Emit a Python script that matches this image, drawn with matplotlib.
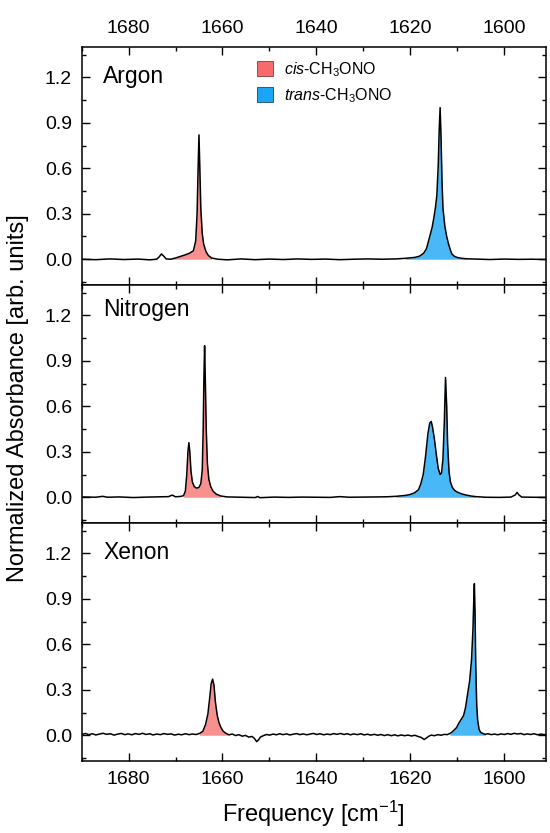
import matplotlib
matplotlib.use("Agg")
import matplotlib.pyplot as plt
from matplotlib.ticker import MultipleLocator, FormatStrFormatter
from matplotlib.patches import Patch
import numpy as np

plt.rcParams['font.family'] = ['Liberation Sans', 'DejaVu Sans']
plt.rcParams['mathtext.fontset'] = 'custom'
plt.rcParams['mathtext.rm'] = 'Liberation Sans'
plt.rcParams['mathtext.it'] = 'Liberation Sans:italic'

# ---------------- data ----------------
argon_x = [1690, 1687, 1684, 1681, 1678, 1675.5, 1674, 1673.5, 1673, 1672.5, 1672, 1671, 1670, 1669,
           1668, 1667, 1666.2, 1665.7, 1665.4, 1665.2, 1665.0, 1664.8, 1664.6, 1664.3, 1664.0, 1663.5,
           1663.0, 1662.3, 1661, 1659, 1656, 1653, 1650, 1647, 1644, 1641, 1638, 1635, 1632, 1629,
           1626, 1623, 1621, 1619, 1618, 1617.1, 1616.5, 1615.9, 1615.3, 1614.9, 1614.6, 1614.3,
           1614.0, 1613.8, 1613.6, 1613.4, 1613.2, 1613.0, 1612.6, 1612.2, 1611.8, 1611.4, 1611.1,
           1610.6, 1610, 1609, 1608, 1606, 1603, 1600, 1597, 1594, 1591, 1590]
argon_y = [0.000, -0.003, 0.002, -0.002, 0.001, -0.004, 0.000, 0.015, 0.035, 0.020, 0.002, 0.000, 0.008, 0.018,
           0.028, 0.040, 0.055, 0.12, 0.30, 0.58, 0.82, 0.58, 0.33, 0.17, 0.10, 0.05,
           0.025, 0.008, 0.000, -0.004, 0.002, -0.003, 0.001, -0.002, 0.002, -0.001, 0.001, -0.003, 0.000, 0.002,
           0.000, 0.002, 0.006, 0.012, 0.020, 0.040, 0.070, 0.14, 0.21, 0.28, 0.34, 0.42,
           0.62, 0.85, 1.00, 0.80, 0.52, 0.34, 0.22, 0.15, 0.10, 0.06, 0.035,
           0.020, 0.012, 0.006, 0.003, 0.001, -0.002, 0.001, -0.001, 0.000, -0.002, 0.000]

nitrogen_x = [1690, 1687, 1685.5, 1684.5, 1682, 1679, 1676, 1673, 1671.5, 1670.7, 1670.0, 1669, 1668.3,
              1667.9, 1667.6, 1667.35, 1667.15, 1666.95, 1666.7, 1666.4, 1666.0, 1665.5, 1665.0, 1664.6,
              1664.3, 1664.1, 1663.95, 1663.8, 1663.65, 1663.45, 1663.2, 1662.9, 1662.5, 1662.0, 1661.3,
              1660.3, 1659, 1656, 1653, 1652.5, 1652, 1649, 1646, 1643, 1640, 1637, 1635, 1633, 1630,
              1627, 1625, 1623, 1621, 1620, 1619, 1618.2, 1617.7, 1617.2, 1616.7, 1616.2, 1615.8,
              1615.5, 1615.2, 1614.8, 1614.4, 1614.0, 1613.6, 1613.3, 1613.0, 1612.7, 1612.45, 1612.2,
              1612.0, 1611.7, 1611.4, 1611.0, 1610.5, 1610.0, 1609, 1608, 1607, 1606, 1604, 1601,
              1598.5, 1597.6, 1597.2, 1596.8, 1596.2, 1594, 1591, 1590]
nitrogen_y = [0.002, 0.000, 0.006, 0.000, 0.002, -0.002, 0.001, 0.003, 0.004, 0.014, 0.003, 0.005, 0.010,
              0.040, 0.15, 0.30, 0.36, 0.30, 0.17, 0.10, 0.07, 0.06, 0.065, 0.09,
              0.18, 0.45, 0.78, 1.00, 0.78, 0.45, 0.22, 0.12, 0.07, 0.04, 0.02,
              0.008, 0.002, 0.000, -0.002, 0.005, -0.003, 0.001, -0.001, 0.001, 0.000, -0.001, 0.004, 0.000, 0.001,
              0.002, 0.003, 0.006, 0.012, 0.018, 0.030, 0.05, 0.09, 0.15, 0.27, 0.42, 0.49,
              0.50, 0.46, 0.38, 0.28, 0.19, 0.15, 0.16, 0.25, 0.50, 0.79, 0.60,
              0.35, 0.17, 0.10, 0.065, 0.045, 0.035, 0.022, 0.014, 0.008, 0.004, 0.000, -0.001,
              0.001, 0.015, 0.032, 0.015, 0.001, 0.000, -0.001, 0.000]

xenon_x = [1690, 1689.2, 1688.5, 1687.7, 1687.0, 1686.2, 1685.4, 1684.7, 1683.9, 1683.1, 1682.4, 1681.6,
           1680.8, 1680.1, 1679.3, 1678.6, 1677.8, 1677.0, 1676.3, 1675.5, 1674.8, 1674.0, 1673.2, 1672.5,
           1671.7, 1670.9, 1670.2, 1669.4, 1668.7, 1667.9, 1667.1, 1666.4, 1665.6, 1664.9, 1664.2, 1663.6,
           1663.1, 1662.7, 1662.4, 1662.1, 1661.8, 1661.5, 1661.1, 1660.7, 1660.3, 1659.8, 1659.2, 1658.6,
           1657.9, 1657.2, 1656.5, 1655.8, 1655.1, 1654.4, 1653.7, 1653.2, 1652.7, 1652.3, 1651.9, 1651.3,
           1650.6, 1649.9, 1649.2, 1648.5, 1647.8, 1647.1, 1646.3, 1645.6, 1644.9, 1644.2, 1643.5, 1642.8,
           1642.0, 1641.3, 1640.6, 1639.9, 1639.2, 1638.4, 1637.7, 1637.0, 1636.3, 1635.6, 1634.8, 1634.1,
           1633.4, 1632.7, 1632.0, 1631.2, 1630.5, 1629.8, 1629.1, 1628.4, 1627.6, 1626.9, 1626.2, 1625.5,
           1624.8, 1624.0, 1623.3, 1622.6, 1621.9, 1621.2, 1620.4, 1619.7, 1619.0, 1618.3, 1617.6, 1617.0,
           1616.6, 1616.1, 1615.5, 1614.8, 1614.1, 1613.4, 1612.7, 1612.1, 1611.5, 1611.1, 1610.6, 1610.1,
           1609.7, 1609.2, 1608.6, 1608.2, 1607.9, 1607.6, 1607.3, 1606.9, 1606.6, 1606.4, 1606.3, 1606.15,
           1606.0, 1605.8, 1605.6, 1605.3, 1605.0, 1604.5, 1604.0, 1603.4, 1602.7, 1602.0, 1601.3, 1600.6,
           1599.9, 1599.2, 1598.5, 1597.8, 1597.1, 1596.4, 1595.7, 1595.0, 1594.3, 1593.6, 1592.8, 1592.1,
           1591.4, 1590.7, 1590.0]
xenon_y = [0.005, 0.012, 0.004, 0.010, 0.002, 0.008, 0.013, 0.006, 0.010, 0.001, 0.007, 0.012,
           0.004, 0.009, 0.003, 0.011, 0.006, 0.013, 0.005, 0.010, 0.002, 0.008, 0.004, 0.011,
           0.006, 0.009, 0.001, 0.007, 0.003, 0.010, 0.004, 0.008, 0.005, 0.012, 0.025, 0.07,
           0.14, 0.25, 0.34, 0.37, 0.33, 0.22, 0.13, 0.08, 0.05, 0.025, 0.012, 0.003,
           0.008, -0.002, 0.004, -0.006, -0.001, -0.012, -0.008, -0.020, -0.042, -0.030, -0.012, -0.003,
           0.005, 0.001, 0.008, 0.003, 0.010, 0.004, 0.009, 0.002, 0.007, 0.011, 0.004, 0.009,
           0.003, 0.008, 0.012, 0.005, 0.010, 0.003, 0.008, 0.004, 0.011, 0.006, 0.012, 0.005,
           0.010, 0.003, 0.009, 0.004, 0.010, 0.002, 0.007, 0.001, 0.006, 0.000, 0.005, -0.002,
           0.004, -0.003, 0.003, -0.004, 0.002, -0.003, 0.001, -0.005, 0.000, -0.008, -0.015, -0.028,
           -0.020, -0.008, 0.001, -0.003, 0.004, 0.000, 0.006, 0.004, 0.012, 0.020, 0.035, 0.050,
           0.075, 0.10, 0.13, 0.18, 0.24, 0.30, 0.36, 0.50, 0.70, 0.92, 1.00, 0.80,
           0.45, 0.20, 0.10, 0.04, 0.02, 0.012, 0.006, 0.010, 0.004, 0.008, 0.003, 0.009,
           0.005, 0.011, 0.006, 0.013, 0.008, 0.012, 0.004, 0.009, 0.005, 0.010, 0.003, 0.008,
           0.004, 0.009, 0.005]

panel_names = ["Argon", "Nitrogen", "Xenon"]
# fill ranges [high, low] in cm-1 for cis and trans bands
cis_ranges = [(1671.0, 1661.5), (1668.3, 1660.0), (1665.0, 1658.6)]
trans_ranges = [(1622.0, 1607.5), (1624.0, 1605.0), (1612.0, 1604.0)]
legend_labels = [r"$\it{cis}$-CH$_3$ONO", r"$\it{trans}$-CH$_3$ONO"]

cis_color = '#F86B6B'
trans_color = '#1BA6F5'

# ---------------- figure ----------------
fig, axes = plt.subplots(3, 1, sharex=True, figsize=(5.5, 8.33), dpi=100,
                         gridspec_kw=dict(hspace=0))
fig.subplots_adjust(left=0.1485, right=0.993, top=0.9436, bottom=0.0864)

spectra = [(argon_x, argon_y), (nitrogen_x, nitrogen_y), (xenon_x, xenon_y)]
name_y = [0.847, 0.87, 0.85]

for i, ax in enumerate(axes):
    x = np.array(spectra[i][0])
    y = np.array(spectra[i][1])
    for (hi, lo), col, a in [(cis_ranges[i], cis_color, 0.75), (trans_ranges[i], trans_color, 0.8)]:
        m = (x <= hi) & (x >= lo)
        ax.fill_between(x[m], 0, y[m], color=col, alpha=a, lw=0)
    ax.plot(x, y, color='black', lw=1.1)
    ax.set_xlim(1690, 1591)
    ax.set_ylim(-0.17, 1.40)
    ax.yaxis.set_major_locator(MultipleLocator(0.3))
    ax.yaxis.set_minor_locator(MultipleLocator(0.15))
    ax.yaxis.set_major_formatter(FormatStrFormatter('%.1f'))
    ax.xaxis.set_major_locator(MultipleLocator(20))
    ax.xaxis.set_minor_locator(MultipleLocator(10))
    ax.tick_params(which='both', direction='in', top=True, right=True, width=1.0,
                   labelsize=14, pad=7)
    ax.tick_params(which='major', length=5.8)
    ax.tick_params(which='minor', length=3)
    ax.tick_params(axis='x', labeltop=(i == 0), labelbottom=(i == 2))
    for s in ax.spines.values():
        s.set_linewidth(1.1)
    ax.text(0.046, name_y[i], panel_names[i], transform=ax.transAxes,
            fontsize=16.5, va='baseline', ha='left')

handles = [Patch(facecolor=cis_color, edgecolor='#8a3a3a', lw=0.6, label=legend_labels[0]),
           Patch(facecolor=trans_color, edgecolor='#1a4a6a', lw=0.6, label=legend_labels[1])]
axes[0].legend(handles=handles, loc='upper left', bbox_to_anchor=(0.377, 0.945),
               frameon=False, fontsize=11.5, handlelength=1.0, handleheight=1.0,
               handletextpad=0.7, labelspacing=0.45, borderpad=0, borderaxespad=0)

axes[2].set_xlabel(r"Frequency [cm$^{-1}$]", fontsize=17, labelpad=8)
fig.text(0.033, 0.522, "Normalized Absorbance [arb. units]", rotation=90,
         fontsize=17, va='center', ha='center')

fig.savefig("out.png", dpi=100)
